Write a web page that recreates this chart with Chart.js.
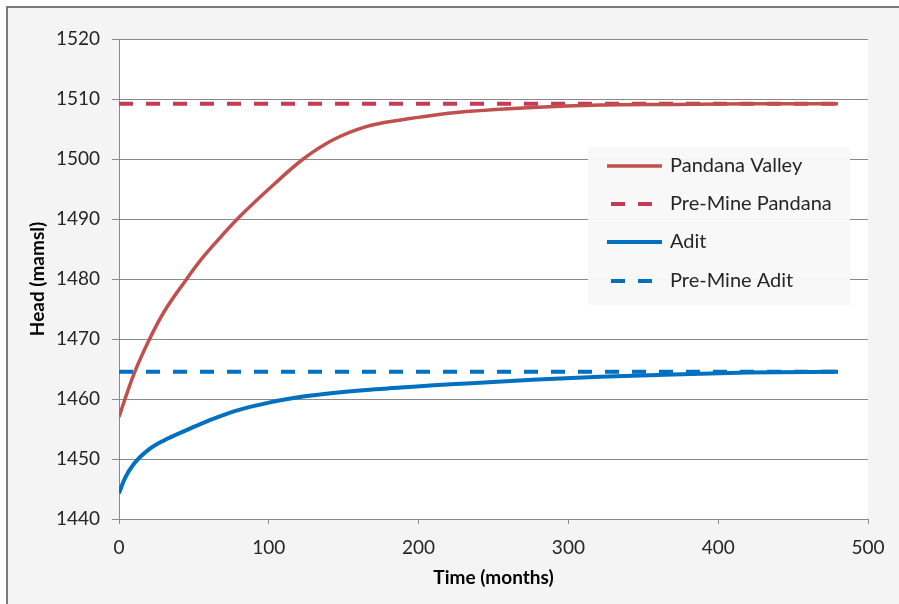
<!DOCTYPE html>
<html>
<head>
<meta charset="utf-8">
<script src="https://cdn.jsdelivr.net/npm/chart.js@4.4.1/dist/chart.umd.min.js"></script>
<style>
  html, body { margin: 0; padding: 0; background: #ffffff; }
  #wrap { width: 899px; height: 604px; position: relative; }
</style>
</head>
<body>
<div id="wrap"><canvas id="headChart" width="899" height="604"></canvas></div>
<script>
// Data (months vs head in mamsl)
const months = [0, 4, 10, 20, 30, 44, 55, 65, 79, 100, 123, 143, 165, 188, 210, 232, 276, 321, 370, 420, 480];
const pandanaValley = [1457, 1460, 1464.2, 1469.8, 1474.5, 1479.6, 1483.3, 1486.2, 1490, 1495, 1500, 1503.2, 1505.4, 1506.5, 1507.3, 1507.9, 1508.6, 1509, 1509.1, 1509.2, 1509.2];
const adit = [1444.3, 1446.8, 1449.2, 1451.6, 1453.1, 1454.7, 1455.9, 1456.9, 1458.1, 1459.4, 1460.4, 1461, 1461.5, 1461.9, 1462.3, 1462.6, 1463.2, 1463.7, 1464.1, 1464.4, 1464.55];
const preMineMonths = [0, 480];
const preMinePandana = [1509.2, 1509.2];
const preMineAdit = [1464.55, 1464.55];
const yTicks = [1440, 1450, 1460, 1470, 1480, 1490, 1500, 1510, 1520];
const xTicks = [0, 100, 200, 300, 400, 500];

const RED = '#c0504d';
const RED_DASH = '#c53a55';
const BLUE = '#0070c0';
const GRID = '#8a8a8a';
const FONT = 'Lato, "Open Sans", "Liberation Sans", sans-serif';

function toPoints(xs, ys) {
    return xs.map((x, i) => ({ x: x, y: ys[i] }));
}

// Background, frame and white plot area
const backdrop = {
    id: 'backdrop',
    beforeDraw(chart) {
        const ctx = chart.ctx;
        const a = chart.chartArea;
        ctx.save();
        ctx.fillStyle = '#f4f4f4';
        ctx.fillRect(6, 6, chart.width - 6, chart.height - 6);
        ctx.fillStyle = '#ffffff';
        ctx.fillRect(a.left, a.top, a.right - a.left, a.bottom - a.top);
        ctx.strokeStyle = '#7a7a7a';
        ctx.lineWidth = 2;
        ctx.beginPath();
        ctx.moveTo(7, chart.height);
        ctx.lineTo(7, 7);
        ctx.lineTo(chart.width, 7);
        ctx.stroke();
        ctx.restore();
    }
};

// Legend drawn inside the plot, like the Excel original
const insideLegend = {
    id: 'insideLegend',
    afterDatasetsDraw(chart) {
        const ctx = chart.ctx;
        const box = { x: 588, y: 147, w: 262, h: 158 };
        ctx.save();
        ctx.fillStyle = 'rgba(248,248,248,0.97)';
        ctx.fillRect(box.x, box.y, box.w, box.h);
        ctx.font = '20px ' + FONT;
        ctx.textBaseline = 'middle';
        ctx.textAlign = 'left';
        const rows = [166, 204, 242, 281];
        chart.data.datasets.forEach((ds, i) => {
            const y = rows[i];
            ctx.strokeStyle = ds.borderColor;
            ctx.lineWidth = ds.borderWidth;
            ctx.setLineDash(ds.borderDash || []);
            ctx.beginPath();
            if (ds.borderDash) {
                ctx.moveTo(611, y);
                ctx.lineTo(662, y);
            } else {
                ctx.moveTo(607, y);
                ctx.lineTo(662, y);
            }
            ctx.stroke();
            ctx.setLineDash([]);
            ctx.fillStyle = '#262626';
            ctx.fillText(ds.label, 670, y);
        });
        ctx.restore();
    }
};

const ctx = document.getElementById('headChart').getContext('2d');
new Chart(ctx, {
    type: 'line',
    data: {
        datasets: [{
            label: 'Pandana Valley',
            data: toPoints(months, pandanaValley),
            borderColor: RED,
            borderWidth: 3.5,
            pointRadius: 0,
            cubicInterpolationMode: 'monotone'
        }, {
            label: 'Pre-Mine Pandana',
            data: toPoints(preMineMonths, preMinePandana),
            borderColor: RED_DASH,
            borderWidth: 4,
            borderDash: [14, 13],
            pointRadius: 0
        }, {
            label: 'Adit',
            data: toPoints(months, adit),
            borderColor: BLUE,
            borderWidth: 4,
            pointRadius: 0,
            cubicInterpolationMode: 'monotone'
        }, {
            label: 'Pre-Mine Adit',
            data: toPoints(preMineMonths, preMineAdit),
            borderColor: BLUE,
            borderWidth: 4,
            borderDash: [14, 13],
            pointRadius: 0
        }]
    },
    options: {
        responsive: false,
        animation: false,
        layout: { padding: { left: 0, top: 39, right: 31, bottom: 0 } },
        plugins: {
            legend: { display: false },
            tooltip: { enabled: false }
        },
        scales: {
            x: {
                type: 'linear',
                min: 0,
                max: 500,
                afterBuildTicks: (scale) => { scale.ticks = xTicks.map(v => ({ value: v })); },
                afterFit: (scale) => { scale.height = 85; },
                grid: { drawOnChartArea: false, drawTicks: true, tickLength: 5, color: GRID },
                border: { color: GRID, width: 1 },
                ticks: {
                    padding: 12,
                    color: '#262626',
                    font: { family: FONT, size: 19 },
                    maxRotation: 0,
                    callback: (v) => String(v)
                },
                title: {
                    display: true,
                    text: 'Time (months)',
                    color: '#000000',
                    font: { family: FONT, size: 19, weight: 'bold' },
                    padding: { top: 0, bottom: 15 }
                }
            },
            y: {
                min: 1440,
                max: 1520,
                afterBuildTicks: (scale) => { scale.ticks = yTicks.map(v => ({ value: v })); },
                afterFit: (scale) => { scale.width = 119; },
                grid: { color: GRID, tickLength: 7, lineWidth: 1 },
                border: { color: GRID, width: 1 },
                ticks: {
                    padding: 12,
                    color: '#262626',
                    font: { family: FONT, size: 19 },
                    callback: (v) => String(v)
                },
                title: {
                    display: true,
                    text: 'Head (mamsl)',
                    color: '#000000',
                    font: { family: FONT, size: 19, weight: 'bold' },
                    padding: { top: 26, bottom: 0 }
                }
            }
        }
    },
    plugins: [backdrop, insideLegend]
});
</script>
</body>
</html>
